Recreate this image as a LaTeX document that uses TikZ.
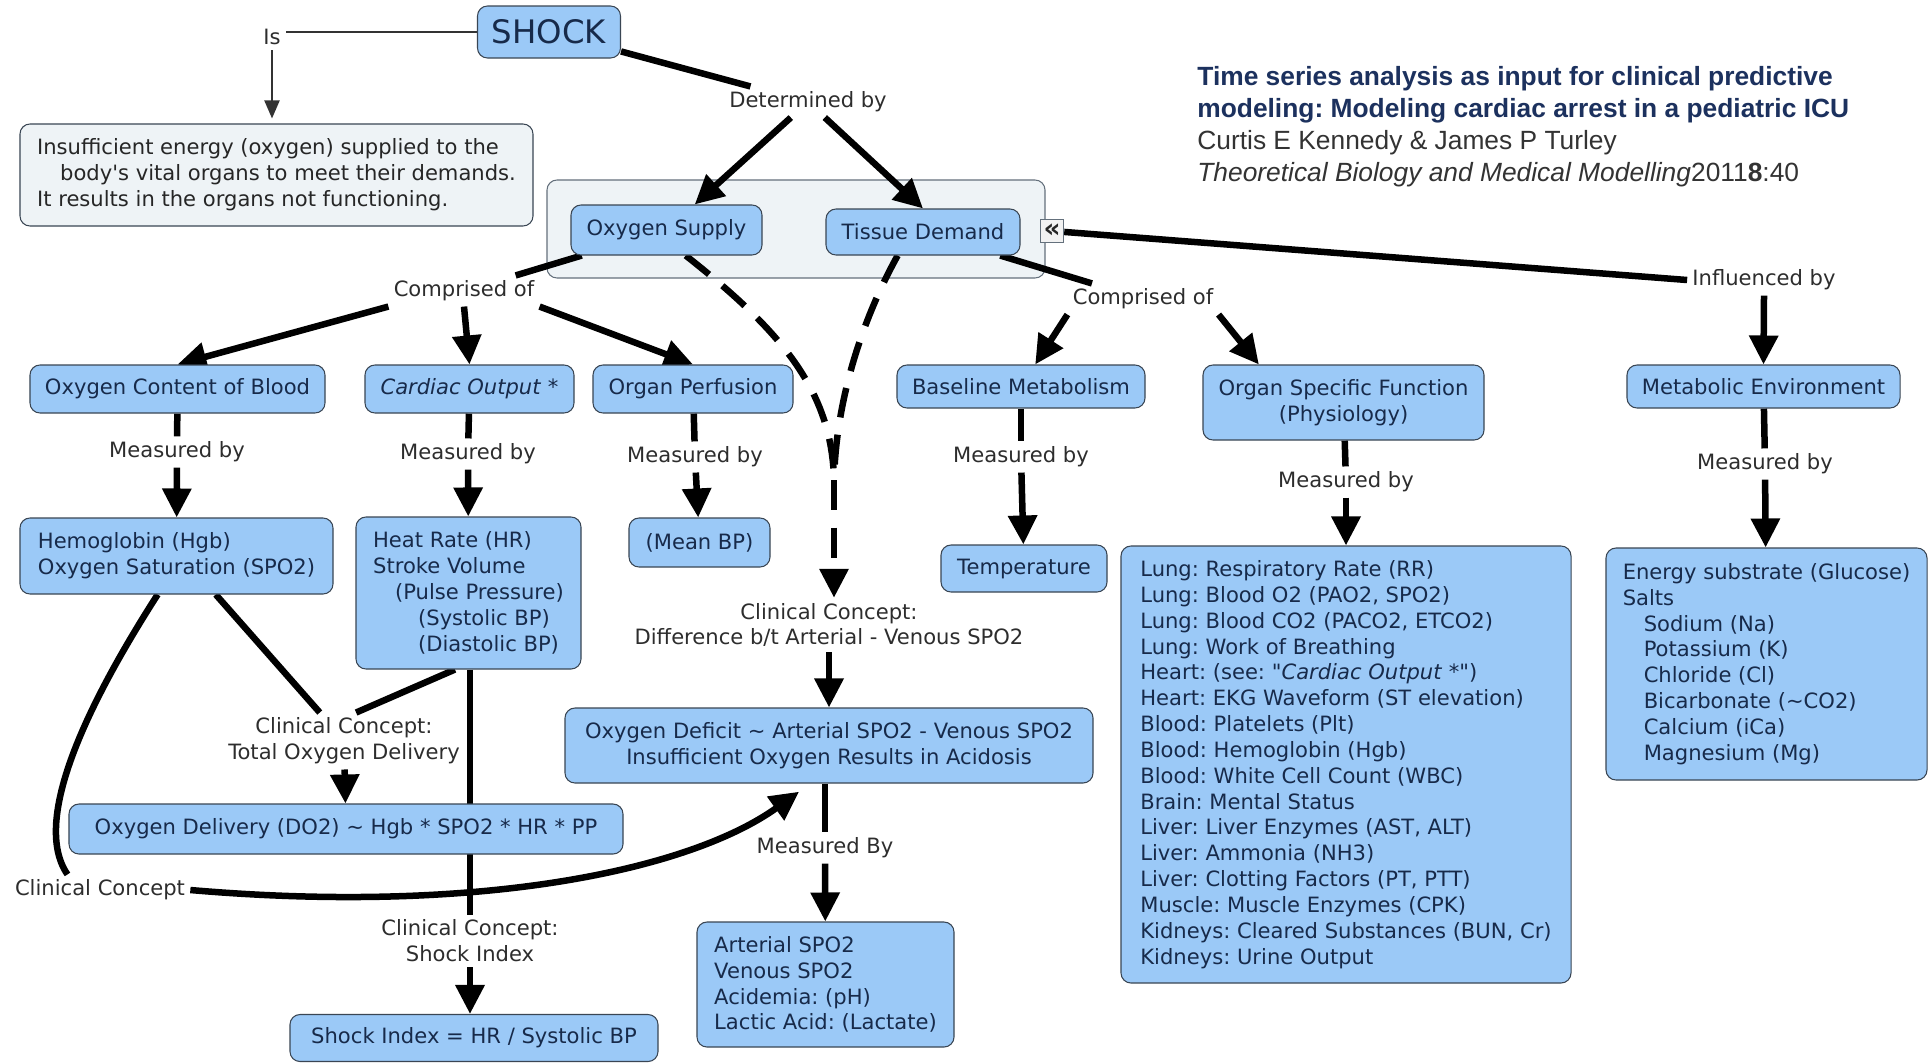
\documentclass[tikz,border=0pt]{standalone}
\usepackage{fontspec}
\setmainfont{DejaVu Sans}
\newfontfamily\titlefont{Liberation Sans}
\usetikzlibrary{arrows.meta,calc}
\frenchspacing

\pgfdeclarelayer{bottom}
\pgfdeclarelayer{background}
\pgfsetlayers{bottom,background,main}

\definecolor{conceptfill}{RGB}{155,201,247}
\definecolor{conceptline}{RGB}{58,70,84}
\definecolor{concepttext}{RGB}{23,42,74}
\definecolor{notefill}{RGB}{238,243,246}
\definecolor{groupline}{RGB}{100,112,124}
\definecolor{phrasetext}{RGB}{45,45,45}
\definecolor{titleblue}{RGB}{28,49,94}
\definecolor{titlegray}{RGB}{51,51,51}

\begin{document}
\begin{tikzpicture}[x=0.2mm,y=-0.2mm,
        every node/.style={font=\fontsize{12}{14.7}\selectfont},
        concept/.style={draw=conceptline,line width=0.6pt,fill=conceptfill,rounded corners=2mm,text=concepttext,align=center,inner sep=0pt},
        listbox/.style={concept,align=left},
        note/.style={concept,fill=notefill,text=black!85},
        phrase/.style={text=phrasetext,inner sep=1mm,align=center},
        link/.style={line width=1.3mm},
        linkarrow/.style={link,-{Triangle[length=5.8mm,width=5.6mm]}},
        dashlink/.style={link,dash pattern=on 6mm off 3.5mm},
        thinlink/.style={line width=0.4mm,draw=black!80},
        thinarrow/.style={thinlink,-{Triangle[length=3.6mm,width=3mm]}}]

        \useasboundingbox (0,0) rectangle (1931,1062);
        \begin{pgfonlayer}{bottom}
            \fill[white] (0,0) rectangle (1931,1062);
            \node[note,draw=groupline,minimum width=99.6mm,minimum height=19.6mm] (grp) at (796,229) {};
        \end{pgfonlayer}

        \node[anchor=north west,inner sep=0pt,align=left,font=\titlefont\fontsize{15}{18.2}\selectfont] (title) at (1197,66)
            {\textcolor{titleblue}{\bfseries Time series analysis as input for clinical predictive}\\
             \textcolor{titleblue}{\bfseries modeling: Modeling cardiac arrest in a pediatric ICU}\\
             \textcolor{titlegray}{Curtis E Kennedy \& James P Turley}\\
             \textcolor{titlegray}{\itshape Theoretical Biology and Medical Modelling\upshape 2011\textbf{8}:40}};

        \node[concept,font=\fontsize{18.4}{22}\selectfont,minimum width=28.6mm,minimum height=10.4mm] (shock) at (549,32) {SHOCK};
        \node[phrase] (is) at (272,37) {Is};
        \node[note,align=left,minimum width=102.6mm,minimum height=20.4mm] (insuf) at (276.5,175)
            {Insufficient energy (oxygen) supplied to the\\
             \hspace*{4.6mm}body\textquotesingle s vital organs to meet their demands.\\
             It results in the organs not functioning.};
        \node[phrase] (det) at (808,102) {Determined by};

        \node[concept,minimum width=38.2mm,minimum height=10mm] (os) at (666.5,230) {Oxygen Supply};
        \node[concept,minimum width=38.8mm,minimum height=9.2mm] (td) at (923,232) {Tissue Demand};
        \node[draw=groupline,line width=0.8pt,fill=white!90!gray,text=black!85,inner sep=0pt,minimum size=4.6mm,font=\fontsize{15}{15}\selectfont\bfseries] (icon) at (1052,231) {«};

        \node[phrase] (compA) at (464,291) {Comprised of};
        \node[phrase] (compB) at (1143,299) {Comprised of};
        \node[phrase] (inf) at (1764,280) {Influenced by};

        \node[concept,minimum width=59mm,minimum height=9.6mm] (ocb) at (177.5,389) {Oxygen Content of Blood};
        \node[concept,minimum width=41.8mm,minimum height=9.6mm] (co) at (469.5,389) {\textit{Cardiac Output} *};
        \node[concept,minimum width=40mm,minimum height=9.6mm] (op) at (693,389) {Organ Perfusion};
        \node[concept,minimum width=49.6mm,minimum height=8.6mm] (bm) at (1021,386.5) {Baseline Metabolism};
        \node[concept,minimum width=56.2mm,minimum height=15mm] (osf) at (1343.5,402.5) {Organ Specific Function\\(Physiology)};
        \node[concept,minimum width=54.6mm,minimum height=8.6mm] (me) at (1763.5,386.5) {Metabolic Environment};

        \node[phrase] (m1) at (177,452) {Measured by};
        \node[phrase] (m2) at (468,454) {Measured by};
        \node[phrase] (m3) at (695,457) {Measured by};
        \node[phrase] (m4) at (1021,457) {Measured by};
        \node[phrase] (m5) at (1346,482) {Measured by};
        \node[phrase] (m6) at (1765,464) {Measured by};

        \node[listbox,minimum width=62.6mm,minimum height=15.2mm] (hgb) at (176.5,556)
            {Hemoglobin (Hgb)\\Oxygen Saturation (SPO2)};
        \node[listbox,minimum width=45mm,minimum height=30.4mm] (hr) at (468.5,593)
            {Heat Rate (HR)\\Stroke Volume\\\hspace*{4.4mm}(Pulse Pressure)\\\hspace*{9mm}(Systolic BP)\\\hspace*{9mm}(Diastolic BP)};
        \node[concept,minimum width=28.2mm,minimum height=9.8mm] (meanbp) at (699.5,542.5) {(Mean BP)};
        \node[concept,minimum width=33.2mm,minimum height=9.4mm] (temp) at (1024,568.5) {Temperature};
        \node[listbox,minimum width=90mm,minimum height=87.4mm] (lung) at (1346,764.5)
            {Lung: Respiratory Rate (RR)\\
             Lung: Blood O2 (PAO2, SPO2)\\
             Lung: Blood CO2 (PACO2, ETCO2)\\
             Lung: Work of Breathing\\
             Heart: (see: \textquotedbl\textit{Cardiac Output} *\textquotedbl)\\
             Heart: EKG Waveform (ST elevation)\\
             Blood: Platelets (Plt)\\
             Blood: Hemoglobin (Hgb)\\
             Blood: White Cell Count (WBC)\\
             Brain: Mental Status\\
             Liver: Liver Enzymes (AST, ALT)\\
             Liver: Ammonia (NH3)\\
             Liver: Clotting Factors (PT, PTT)\\
             Muscle: Muscle Enzymes (CPK)\\
             Kidneys: Cleared Substances (BUN, Cr)\\
             Kidneys: Urine Output};
        \node[listbox,minimum width=64.2mm,minimum height=46.4mm] (energy) at (1766.5,664)
            {Energy substrate (Glucose)\\
             Salts\\
             \hspace*{4.2mm}Sodium (Na)\\
             \hspace*{4.2mm}Potassium (K)\\
             \hspace*{4.2mm}Chloride (Cl)\\
             \hspace*{4.2mm}Bicarbonate (\textasciitilde CO2)\\
             \hspace*{4.2mm}Calcium (iCa)\\
             \hspace*{4.2mm}Magnesium (Mg)};

        \node[phrase] (diff) at (829,625) {Clinical Concept:\\Difference b/t Arterial - Venous SPO2};
        \node[concept,minimum width=105.6mm,minimum height=15mm] (od) at (829,745.5)
            {Oxygen Deficit \textasciitilde{} Arterial SPO2 - Venous SPO2\\Insufficient Oxygen Results in Acidosis};
        \node[phrase] (mB) at (825,848) {Measured By};
        \node[listbox,minimum width=51.4mm,minimum height=25mm] (art) at (825.5,984.5)
            {Arterial SPO2\\Venous SPO2\\Acidemia: (pH)\\Lactic Acid: (Lactate)};

        \node[phrase] (tod) at (344,741) {Clinical Concept:\\Total Oxygen Delivery};
        \node[concept,minimum width=110.8mm,minimum height=10mm] (odel) at (346,829)
            {Oxygen Delivery (DO2) \textasciitilde{} Hgb * SPO2 * HR * PP};
        \node[phrase] (cc) at (100,890) {Clinical Concept};
        \node[phrase] (sil) at (470,941) {Clinical Concept:\\Shock Index};
        \node[concept,minimum width=73.6mm,minimum height=9.4mm] (sib) at (474,1038) {Shock Index = HR / Systolic BP};

        \begin{pgfonlayer}{background}
            \draw[thinlink] (shock.west) -- (shock.west -| is.east);
            \draw[thinarrow,shorten >=1mm] (is.south) -- (is.south |- insuf.north);
            \draw[link] (shock) -- (det);
            \draw[linkarrow] (det) -- (os);
            \draw[linkarrow] (det) -- (td.north);
            \draw[link] (icon) -- (inf.west);
            \draw[linkarrow] (inf.south) -- (me.north);

            \draw[link] (os) -- (compA);
            \draw[linkarrow] (compA.south west) -- (ocb.north);
            \draw[linkarrow] (compA.south) -- (co.north);
            \draw[linkarrow] (compA.south east) -- (op.north);
            \draw[link] (td) -- (compB);
            \draw[linkarrow] (compB.south west) -- (bm);
            \draw[linkarrow] (compB.south east) -- ($(osf.north west)!0.2!(osf.north east)$);

            \foreach \a/\m/\b in {ocb/m1/hgb,co/m2/hr,op/m3/meanbp,bm/m4/temp,osf/m5/lung,me/m6/energy}{
                \draw[link] (\a) -- (\m);
                \draw[linkarrow] (\m) -- (\b);
            }

            \coordinate (dmerge) at (834,480);
            \draw[dashlink] ($(os.south)!0.2!(os.south east)$) .. controls (780,330) and (832,390) .. (dmerge);
            \draw[dashlink] ($(td.south west)!0.37!(td.south east)$) .. controls (862,320) and (836,400) .. (dmerge);
            \draw[dashlink,-{Triangle[length=5.8mm,width=5.6mm]}] (dmerge) -- (dmerge |- diff.north);
            \draw[linkarrow] (diff) -- (od);
            \draw[link] (mB |- od.south) -- (mB);
            \draw[linkarrow] (mB) -- (art);

            \draw[link] ($(hgb.south)!0.25!(hgb.south east)$) -- ($(tod.north west)!0.4!(tod.north east)$);
            \draw[link] ($(hr.south west)!0.44!(hr.south east)$) -- ($(tod.north west)!0.55!(tod.north east)$);
            \draw[linkarrow] (tod) -- (odel);
            \draw[link] (sil |- hr.south) -- (sil);
            \draw[linkarrow] (sil) -- (sil |- sib.north);

            \draw[link] ($(hgb.south west)!0.44!(hgb.south east)$) .. controls (90,700) and (30,820) .. ($(cc.north west)!0.32!(cc.north east)$);
            \draw[linkarrow,shorten >=2.8mm] (cc.east) .. controls (480,915) and (690,870) .. ($(od.south west)!0.465!(od.south east)$);
        \end{pgfonlayer}
\end{tikzpicture}
\end{document}
